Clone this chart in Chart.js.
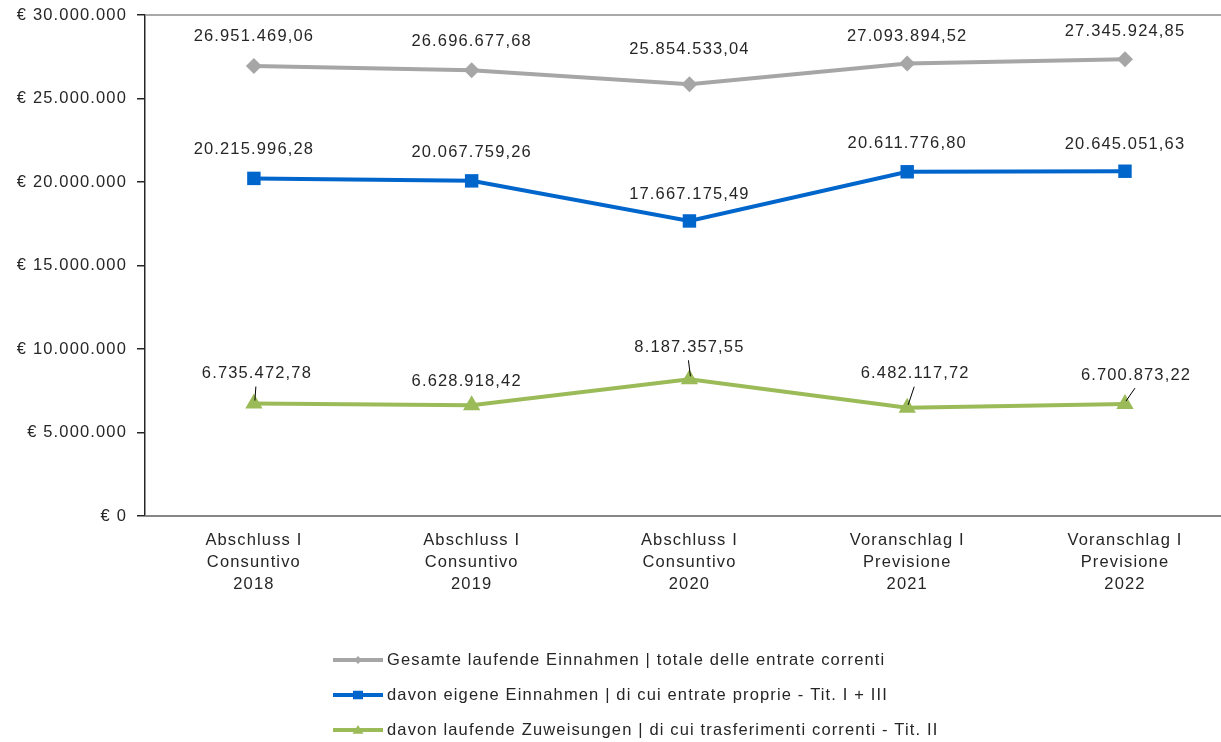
<!DOCTYPE html>
<html>
<head>
<meta charset="utf-8">
<script src="https://cdn.jsdelivr.net/npm/chart.js@4.4.1/dist/chart.umd.min.js"></script>
<style>
html, body { margin: 0; padding: 0; background: #fff; }
</style>
</head>
<body>
<canvas id="lineChart" width="1221" height="742"></canvas>
<script>
// data
var categories = [
    ["Abschluss I", "Consuntivo", "2018"],
    ["Abschluss I", "Consuntivo", "2019"],
    ["Abschluss I", "Consuntivo", "2020"],
    ["Voranschlag I", "Previsione", "2021"],
    ["Voranschlag I", "Previsione", "2022"]
];
var seriesNames = [
    "Gesamte laufende Einnahmen | totale delle entrate correnti",
    "davon eigene Einnahmen | di cui entrate proprie - Tit. I + III",
    "davon laufende Zuweisungen | di cui trasferimenti correnti - Tit. II"
];
var totalValues = [26951469.06, 26696677.68, 25854533.04, 27093894.52, 27345924.85];
var ownValues = [20215996.28, 20067759.26, 17667175.49, 20611776.80, 20645051.63];
var transferValues = [6735472.78, 6628918.42, 8187357.55, 6482117.72, 6700873.22];
var yTicks = [0, 5000000, 10000000, 15000000, 20000000, 25000000, 30000000];

var FONT = '"Liberation Sans", Arial, sans-serif';
var FSIZE = 16.5;
var SPACING = '1.15px';
var TEXT = '#262626';

function fmtNum(v, dec) {
    var parts = v.toFixed(dec).split('.');
    var intPart = parts[0].replace(/\B(?=(\d{3})+(?!\d))/g, '.');
    return dec ? intPart + ',' + parts[1] : intPart;
}

function toPoints(values) {
    return values.map(function (v, i) { return { x: i, y: v }; });
}

// label offsets from the point: [dx, dy, leader line]
var labelOffsets = [
    [[0, -29], [0, -29], [0, -35], [0, -27], [0, -28]],
    [[0, -29], [0, -28], [0, -27], [0, -28], [0, -27]],
    [[3, -30, true], [-5, -24], [0, -32, true], [8, -34, true], [11, -29, true]]
];

function drawMarker(ctx, style, x, y, r) {
    ctx.beginPath();
    if (style === 'rectRot') {
        ctx.moveTo(x, y - r); ctx.lineTo(x + r, y); ctx.lineTo(x, y + r); ctx.lineTo(x - r, y);
    } else if (style === 'rect') {
        ctx.rect(x - r, y - r * 0.85, 2 * r, 1.7 * r);
    } else {
        ctx.moveTo(x, y - r); ctx.lineTo(x + r * 1.1, y + r * 0.75); ctx.lineTo(x - r * 1.1, y + r * 0.75);
    }
    ctx.closePath();
    ctx.fill();
}

var extras = {
    id: 'extras',
    beforeUpdate: function (chart) { chart.ctx.letterSpacing = SPACING; },
    beforeDraw: function (chart) { chart.ctx.letterSpacing = SPACING; },
    beforeDatasetsDraw: function (chart) {
        var ctx = chart.ctx, a = chart.chartArea;
        ctx.save();
        ctx.strokeStyle = '#8c8c8c';
        ctx.lineWidth = 1.5;
        ctx.beginPath();
        ctx.moveTo(a.left, a.top);
        ctx.lineTo(chart.width, a.top);
        ctx.stroke();
        ctx.strokeStyle = '#868686';
        ctx.lineWidth = 2;
        ctx.beginPath();
        ctx.moveTo(a.left, a.bottom);
        ctx.lineTo(chart.width, a.bottom);
        ctx.stroke();
        ctx.restore();
    },
    afterDatasetsDraw: function (chart) {
        var ctx = chart.ctx;
        ctx.save();
        ctx.font = FSIZE + 'px ' + FONT;
        ctx.fillStyle = TEXT;
        ctx.strokeStyle = '#000';
        ctx.lineWidth = 1;
        ctx.textAlign = 'center';
        ctx.textBaseline = 'middle';
        chart.data.datasets.forEach(function (ds, di) {
            chart.getDatasetMeta(di).data.forEach(function (pt, i) {
                var off = labelOffsets[di][i];
                var tx = pt.x + off[0], ty = pt.y + off[1];
                ctx.fillText(fmtNum(ds.data[i].y, 2), tx, ty);
                if (off[2]) {
                    ctx.beginPath();
                    ctx.moveTo(tx - 1, ty + 13);
                    ctx.lineTo(pt.x + 1, pt.y - 3);
                    ctx.stroke();
                }
            });
        });
        ctx.restore();
    },
    afterDraw: function (chart) {
        var ctx = chart.ctx;
        ctx.save();
        ctx.font = FSIZE + 'px ' + FONT;
        ctx.textBaseline = 'middle';
        ctx.textAlign = 'left';
        chart.data.datasets.forEach(function (ds, di) {
            var y = 660 + di * 35;
            ctx.strokeStyle = ds.borderColor;
            ctx.fillStyle = ds.borderColor;
            ctx.lineWidth = 4;
            ctx.beginPath();
            ctx.moveTo(333, y);
            ctx.lineTo(383, y);
            ctx.stroke();
            drawMarker(ctx, ds.pointStyle, 358, y, di === 0 ? 4 : 5);
            ctx.fillStyle = TEXT;
            ctx.fillText(ds.label, 387, y);
        });
        ctx.restore();
    }
};

var ctx = document.getElementById('lineChart');
var colors = ['#A6A6A6', '#0066CC', '#9BBB59'];
var styles = ['rectRot', 'rect', 'triangle'];
var radii = [8, 9.5, 10];
var allValues = [totalValues, ownValues, transferValues];

var myChart = new Chart(ctx, {
    type: 'line',
    data: {
        datasets: allValues.map(function (vals, i) {
            return {
                label: seriesNames[i],
                data: toPoints(vals),
                borderColor: colors[i],
                backgroundColor: colors[i],
                pointBackgroundColor: colors[i],
                pointBorderColor: colors[i],
                pointBorderWidth: 0,
                pointStyle: styles[i],
                pointRadius: radii[i],
                borderWidth: 4,
                tension: 0,
                fill: false
            };
        })
    },
    options: {
        responsive: false,
        animation: false,
        layout: { padding: { top: 15, right: 0, bottom: 0, left: 0 } },
        plugins: {
            legend: { display: false },
            tooltip: { enabled: false }
        },
        scales: {
            x: {
                type: 'linear',
                min: -0.5,
                max: 4.395,
                afterBuildTicks: function (scale) {
                    scale.ticks = categories.map(function (c, i) { return { value: i }; });
                },
                afterFit: function (scale) {
                    scale.height = 226;
                    scale.paddingLeft = 0;
                    scale.paddingRight = 0;
                },
                grid: { display: false, drawTicks: false },
                border: { display: false },
                ticks: {
                    autoSkip: false,
                    maxRotation: 0,
                    padding: 13,
                    color: TEXT,
                    font: { size: FSIZE, family: FONT, lineHeight: 1.333 },
                    callback: function (v) { return categories[v] || ''; }
                }
            },
            y: {
                min: 0,
                max: 30000000,
                afterBuildTicks: function (scale) {
                    scale.ticks = yTicks.map(function (v) { return { value: v }; });
                },
                afterFit: function (scale) {
                    scale.width = 145;
                    scale.paddingTop = 0;
                    scale.paddingBottom = 0;
                },
                grid: { display: true, drawOnChartArea: false, drawTicks: true, tickLength: 8, color: '#262626', lineWidth: 1.5 },
                border: { display: true, color: '#262626', width: 1.5 },
                ticks: {
                    padding: 10,
                    color: TEXT,
                    font: { size: FSIZE, family: FONT },
                    callback: function (v) { return '€ ' + fmtNum(v, 0); }
                }
            }
        }
    },
    plugins: [extras]
});
</script>
</body>
</html>
